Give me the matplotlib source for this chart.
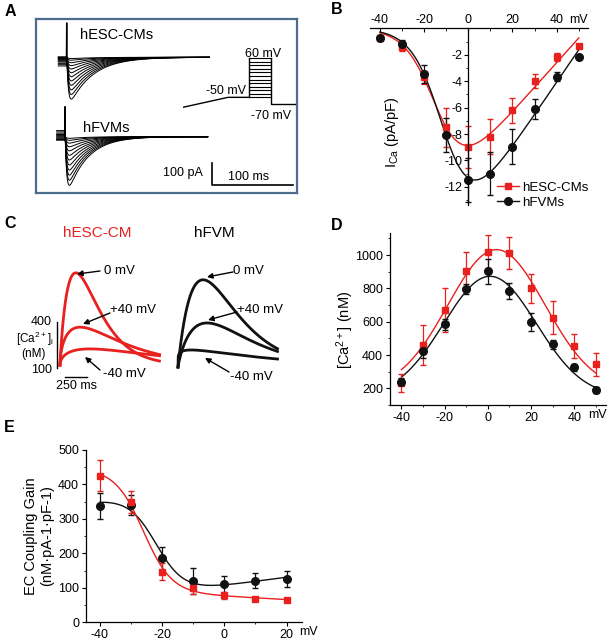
import numpy as np
import matplotlib
matplotlib.use('Agg')
import matplotlib.pyplot as plt
from matplotlib.ticker import FixedLocator

plt.rcParams['font.family'] = ['Liberation Sans', 'DejaVu Sans']
plt.rcParams['axes.unicode_minus'] = False
plt.rcParams['mathtext.default'] = 'regular'

W, H = 608, 643
RED = '#E8201E'
BLK = '#111111'
BOXC = '#4d6d8e'

# ---------------- data ----------------
volt_iv = [-40, -30, -20, -10, 0, 10, 20, 30, 40, 50]
ica_esc = [-0.7, -1.4, -3.7, -7.5, -9.0, -8.2, -6.2, -4.0, -2.2, -1.3]
ica_esc_err = [0.1, 0.3, 0.5, 1.5, 1.6, 1.35, 0.95, 0.55, 0.3, 0.1]
ica_fvm = [-0.7, -1.15, -3.45, -8.1, -11.5, -11.0, -8.95, -6.1, -3.65, -2.15]
ica_fvm_err = [0.1, 0.25, 0.65, 1.3, 1.65, 1.6, 1.3, 0.75, 0.35, 0.1]

volt_ca = [-40, -30, -20, -10, 0, 10, 20, 30, 40, 50]
ca_esc = [233, 460, 670, 905, 1020, 1010, 800, 624, 454, 344]
ca_esc_err = [55, 120, 130, 115, 100, 95, 85, 100, 70, 68]
ca_fvm = [240, 424, 584, 796, 904, 784, 600, 464, 326, 190]
ca_fvm_err = [20, 40, 35, 30, 75, 50, 55, 25, 20, 18]

volt_gain = [-40, -30, -20, -10, 0, 10, 20]
gain_esc = [425, 348, 147, 100, 79, 68, 65]
gain_esc_err = [45, 32, 25, 18, 10, 5, 4]
gain_fvm = [338, 340, 186, 121, 110, 121, 126]
gain_fvm_err = [38, 30, 33, 38, 25, 22, 24]

# panel A example currents (peak inward current, pA) and pre-step levels
peak_esc = [200, 178, 156, 134, 113, 93, 74, 56, 40, 26, 14, 6]
pre_esc = [-40, -34, -28, -22, -18, -14, -10, -6, -4, -2, 0, 2]
peak_fvm = [240, 215, 190, 165, 140, 115, 92, 70, 50, 32, 18, 8]
pre_fvm = [28, 22, 16, 10, 6, 2, -2, -6, -10, -12, -14, -16]
tau_esc, tau_fvm = 28.0, 24.0
step_levels = [-50, -40, -30, -20, -10, 0, 10, 20, 30, 40, 50, 60]

# panel C example Ca transients: (label, peak nM, time to peak ms, decay tau ms)
ca_tr_esc = [('0 mV', 715, 180, 200), ('+40 mV', 365, 230, 420), ('-40 mV', 225, 340, 700)]
ca_tr_fvm = [('0 mV', 670, 285, 290), ('+40 mV', 392, 330, 380), ('-40 mV', 218, 150, 900)]
base_esc, base_fvm = 120, 108


# ---------------- fits ----------------
def fit_iv(v, y):
    v = np.asarray(v, float); y = np.asarray(y, float)
    best = None
    for vh in np.arange(-40, 10.01, 0.5):
        for k in np.arange(4, 15.01, 0.25):
            s = 1 / (1 + np.exp((vh - v) / k))
            X = np.column_stack([v * s, s])
            c, *_ = np.linalg.lstsq(X, y, rcond=None)
            r = np.sum((X @ c - y) ** 2)
            if best is None or r < best[0]:
                best = (r, vh, k, c)
    _, vh, k, c = best
    return lambda x: (c[0] * x + c[1]) / (1 + np.exp((vh - x) / k))


def fit_bell(v, y):
    v = np.asarray(v, float); y = np.asarray(y, float)
    best = None
    for mu in np.arange(-15, 20.01, 0.5):
        for sd in np.arange(8, 60.01, 0.5):
            g = np.exp(-(v - mu) ** 2 / (2 * sd ** 2))
            X = np.column_stack([np.ones_like(v), g])
            c, *_ = np.linalg.lstsq(X, y, rcond=None)
            r = np.sum((X @ c - y) ** 2)
            if best is None or r < best[0]:
                best = (r, mu, sd, c)
    _, mu, sd, c = best
    return lambda x: c[0] + c[1] * np.exp(-(x - mu) ** 2 / (2 * sd ** 2))


def fit_sig(v, y):
    v = np.asarray(v, float); y = np.asarray(y, float)
    best = None
    for vh in np.arange(-40, 0.01, 0.5):
        for k in np.arange(4.5, 15.01, 0.25):
            s = 1 / (1 + np.exp((v - vh) / k))
            X = np.column_stack([np.ones_like(v), v, s])
            c, *_ = np.linalg.lstsq(X, y, rcond=None)
            r = np.sum((X @ c - y) ** 2)
            if best is None or r < best[0]:
                best = (r, vh, k, c)
    _, vh, k, c = best
    return lambda x: c[0] + c[1] * x + c[2] / (1 + np.exp((x - vh) / k))


# ---------------- figure ----------------
fig = plt.figure(figsize=(W / 100, H / 100), dpi=100)


def px_axes(l, t, r, b):
    return fig.add_axes([l / W, 1 - b / H, (r - l) / W, (b - t) / H])


ov = fig.add_axes([0, 0, 1, 1])
ov.set_xlim(0, W); ov.set_ylim(H, 0); ov.axis('off')
ov.set_zorder(10)

for lab, x, y in [('A', 10, 12), ('B', 337, 10), ('C', 10, 224), ('D', 337, 225), ('E', 9, 427)]:
    ov.text(x, y, lab, fontsize=11.5, fontweight='bold', ha='center', va='center')

# ---------------- Panel A ----------------
axA = px_axes(36, 19, 297, 193)
axA.set_xlim(-27.3, 292.5); axA.set_ylim(-624, 176)
axA.set_xticks([]); axA.set_yticks([])
for s in axA.spines.values():
    s.set_color(BOXC); s.set_linewidth(1.6)

off_fvm = -365
t_post = np.linspace(10.5, 185, 500)
for A, p in zip(peak_esc, pre_esc):
    i_post = -A * (1 - np.exp(-(t_post - 10.5) / 2.0)) * np.exp(-(t_post - 10.5) / tau_esc) * 1.25
    axA.plot(np.r_[0, 10, t_post], np.r_[p, p, i_post], color='black', lw=0.7)
for A, p in zip(peak_fvm, pre_fvm):
    i_post = -A * (1 - np.exp(-(t_post - 10.5) / 2.0)) * np.exp(-(t_post - 10.5) / tau_fvm) * 1.25
    axA.plot(np.r_[0, 10, t_post] - 2, off_fvm + np.r_[p, p, i_post], color='black', lw=0.7)
axA.plot([10, 10.3, 10.6], [0, 158, -20], color='black', lw=1.0)
axA.plot([8, 8.3, 8.6], [off_fvm, off_fvm + 138, off_fvm - 20], color='black', lw=1.0)
# scale bar
axA.plot([188, 188, 288], [-487, -587, -587], color='black', lw=1.2)
ov.text(203, 173, '100 pA', ha='right', va='center', fontsize=9)
ov.text(249, 177, '100 ms', ha='center', va='center', fontsize=9)
ov.text(80, 35, 'hESC-CMs', ha='left', va='center', fontsize=10.5)
ov.text(83, 128, 'hFVMs', ha='left', va='center', fontsize=10.5)

# voltage protocol
axP = px_axes(183, 55, 296, 112)
axP.set_xlim(0, 113); axP.set_ylim(-91.3, 69.3); axP.axis('off')
axP.plot([0, 45, 66], [-78, -50, -50], color='black', lw=1)
axP.plot([66, 66], [-50, 60], color='black', lw=1)
for v in step_levels:
    axP.plot([66, 88], [v, v], color='black', lw=0.8)
axP.plot([88, 88, 112], [60, -70, -70], color='black', lw=1)
ov.text(263, 54, '60 mV', ha='center', va='center', fontsize=9)
ov.text(246, 91, '-50 mV', ha='right', va='center', fontsize=9)
ov.text(271, 116, '-70 mV', ha='center', va='center', fontsize=9)

# ---------------- Panel C ----------------
def transient(t, peak, base, tp, tau):
    n = tp / tau
    tt = np.clip(t, 0, None)
    g = (tt / tp) ** n * np.exp(n * (1 - tt / tp))
    return base + (peak - base) * g

tC = np.linspace(0, 1130, 800)
axCr = px_axes(50, 262, 170, 382)
axCb = px_axes(168, 262, 288, 382)
for ax, trs, base, col in [(axCr, ca_tr_esc, base_esc, RED), (axCb, ca_tr_fvm, base_fvm, BLK)]:
    ax.set_xlim(-113.6, 1249.6); ax.set_ylim(11.8, 784.6); ax.axis('off')
    for lab, pk, tp, tau in trs:
        ax.plot(tC, transient(tC, pk, base, tp, tau), color=col, lw=2.0)
axCr.plot([-37.5, -37.5], [100, 400], color='black', lw=1)
axCr.plot([57, 307], [44, 44], color='black', lw=1)
ov.text(52, 322, '400', ha='right', va='center', fontsize=9)
ov.text(52, 370, '100', ha='right', va='center', fontsize=9)
ov.text(35, 339, '[Ca$^{2+}$]$_i$', ha='center', va='center', fontsize=8.5)
ov.text(34, 354, '(nM)', ha='center', va='center', fontsize=8.5)
ov.text(77, 386, '250 ms', ha='center', va='center', fontsize=9)
ov.text(97, 233, 'hESC-CM', ha='center', va='center', fontsize=11, color=RED)
ov.text(214, 233, 'hFVM', ha='center', va='center', fontsize=11, color='black')

arrows = [('0 mV', (100, 271), (77, 274), (104, 271)),
          ('+40 mV', (110, 313), (83, 324), (110, 310)),
          ('-40 mV', (100, 370), (85, 357), (103, 374)),
          ('0 mV', (233, 272), (207, 277), (233, 271)),
          ('+40 mV', (237, 312), (208, 320), (237, 310)),
          ('-40 mV', (229, 372), (205, 358), (230, 377))]
for lab, tail, tip, tpos in arrows:
    ov.annotate('', xy=tip, xytext=tail,
                arrowprops=dict(arrowstyle='-|>', color='black', lw=1.0, mutation_scale=8,
                                shrinkA=0, shrinkB=0))
    ov.text(tpos[0], tpos[1], lab, ha='left', va='center', fontsize=9.5)

# ---------------- Panel B ----------------
axB = px_axes(370, 28.4, 587.6, 205.3)
axB.set_xlim(-44.5, 54); axB.set_ylim(-13.4, 0)
axB.spines['left'].set_position(('data', 0))
axB.spines['bottom'].set_visible(False); axB.spines['right'].set_visible(False)
axB.xaxis.tick_top()
axB.xaxis.set_major_locator(FixedLocator([-40, -20, 0, 20, 40]))
axB.xaxis.set_minor_locator(FixedLocator([-30, -10, 10, 30, 50]))
axB.set_xticklabels(['-40', '-20', '0', '20', '40'])
axB.yaxis.set_major_locator(FixedLocator([-2, -4, -6, -8, -10, -12]))
axB.yaxis.set_minor_locator(FixedLocator([-1, -3, -5, -7, -9, -11, -13]))
axB.tick_params(axis='x', which='major', direction='in', length=3, pad=1.5, labelsize=9)
axB.tick_params(axis='x', which='minor', direction='in', length=2)
axB.tick_params(axis='y', which='major', direction='out', length=3, pad=1.5, labelsize=9)
axB.tick_params(axis='y', which='minor', direction='out', length=1.5)
for s in axB.spines.values():
    s.set_linewidth(0.9)
vv = np.linspace(-40, 50, 300)
fB1 = fit_iv(volt_iv, ica_esc); fB2 = fit_iv(volt_iv, ica_fvm)
axB.plot(vv, fB1(vv), color=RED, lw=1)
axB.plot(vv, fB2(vv), color=BLK, lw=1)
axB.errorbar(volt_iv, ica_esc, yerr=ica_esc_err, fmt='s', color=RED, ms=5, capsize=2, elinewidth=0.9)
axB.errorbar(volt_iv, ica_fvm, yerr=ica_fvm_err, fmt='o', color=BLK, ms=5.5, capsize=2, elinewidth=0.9)
axB.plot([], [], '-s', color=RED, ms=5, lw=1, label='hESC-CMs')
axB.plot([], [], '-o', color=BLK, ms=5.5, lw=1, label='hFVMs')
axB.legend(loc='lower right', bbox_to_anchor=(1.03, -0.05), frameon=False, fontsize=9.5,
           handlelength=1.6, handletextpad=0.3, borderaxespad=0, labelspacing=0.2)
ov.text(578, 20, 'mV', ha='center', va='center', fontsize=9)
fig.text(392 / W, 1 - 132 / H, 'I$_{Ca}$ (pA/pF)', rotation=90, ha='center', va='center', fontsize=10.5)

# ---------------- Panel D ----------------
axD = px_axes(390, 233, 606, 405)
axD.set_xlim(-45.3, 54.7); axD.set_ylim(100, 1132)
axD.spines['top'].set_visible(False); axD.spines['right'].set_visible(False)
axD.xaxis.set_major_locator(FixedLocator([-40, -20, 0, 20, 40]))
axD.xaxis.set_minor_locator(FixedLocator([-30, -10, 10, 30, 50]))
axD.set_xticklabels(['-40', '-20', '0', '20', '40'])
axD.yaxis.set_major_locator(FixedLocator([200, 400, 600, 800, 1000]))
axD.yaxis.set_minor_locator(FixedLocator([100, 300, 500, 700, 900, 1100]))
axD.tick_params(which='major', direction='out', length=3, pad=2, labelsize=9)
axD.tick_params(which='minor', direction='out', length=1.5)
for s in axD.spines.values():
    s.set_linewidth(0.9)
fD1 = fit_bell(volt_ca, ca_esc); fD2 = fit_bell(volt_ca, ca_fvm)
axD.plot(vv, fD1(vv), color=RED, lw=1)
axD.plot(vv, fD2(vv), color=BLK, lw=1)
axD.errorbar(volt_ca, ca_esc, yerr=ca_esc_err, fmt='s', color=RED, ms=5, capsize=2, elinewidth=0.9)
axD.errorbar(volt_ca, ca_fvm, yerr=ca_fvm_err, fmt='o', color=BLK, ms=5.5, capsize=2, elinewidth=0.9)
ov.text(597, 415, 'mV', ha='center', va='center', fontsize=9)
fig.text(345 / W, 1 - 330 / H, '[Ca$^{2+}$] (nM)', rotation=90, ha='center', va='center', fontsize=10.5)

# ---------------- Panel E ----------------
axE = px_axes(86, 450, 301.5, 622.3)
axE.set_xlim(-44.5, 24.8); axE.set_ylim(0, 500)
axE.spines['top'].set_visible(False); axE.spines['right'].set_visible(False)
axE.xaxis.set_major_locator(FixedLocator([-40, -20, 0, 20]))
axE.xaxis.set_minor_locator(FixedLocator([-30, -10, 10]))
axE.set_xticklabels(['-40', '-20', '0', '20'])
axE.yaxis.set_major_locator(FixedLocator([0, 100, 200, 300, 400, 500]))
axE.yaxis.set_minor_locator(FixedLocator([50, 150, 250, 350, 450]))
axE.tick_params(which='major', direction='out', length=3, pad=2, labelsize=9)
axE.tick_params(which='minor', direction='out', length=1.5)
for s in axE.spines.values():
    s.set_linewidth(0.9)
vg = np.linspace(-40, 20, 300)
fE1 = fit_sig(volt_gain, gain_esc); fE2 = fit_sig(volt_gain, gain_fvm)
axE.plot(vg, fE2(vg), color=BLK, lw=1)
axE.plot(vg, fE1(vg), color=RED, lw=1)
axE.errorbar(volt_gain, gain_fvm, yerr=gain_fvm_err, fmt='o', color=BLK, ms=5.5, capsize=2, elinewidth=0.9)
axE.errorbar(volt_gain, gain_esc, yerr=gain_esc_err, fmt='s', color=RED, ms=5, capsize=2, elinewidth=0.9)
ov.text(308, 632, 'mV', ha='center', va='center', fontsize=9)
fig.text(31 / W, 1 - 536 / H, 'EC Coupling Gain', rotation=90, ha='center', va='center', fontsize=10.5)
fig.text(47 / W, 1 - 536 / H, '(nM\u00b7pA-1\u00b7pF-1)', rotation=90, ha='center', va='center', fontsize=10.5)

fig.savefig('out.png', dpi=100)
